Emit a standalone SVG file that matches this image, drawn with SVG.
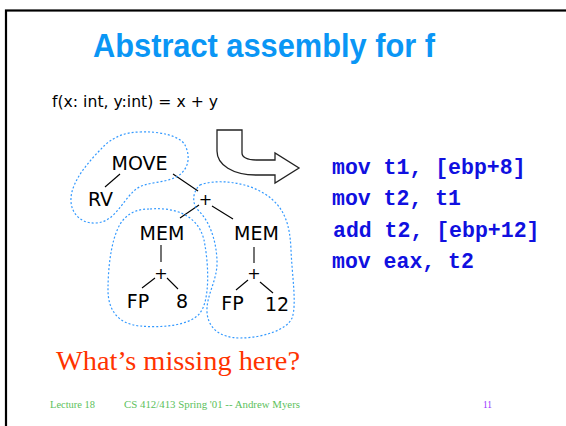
<svg xmlns="http://www.w3.org/2000/svg" width="566" height="426" viewBox="0 0 566 426">
  <style>
    .title { font-family: "Liberation Sans", Arial, sans-serif; font-weight: bold; font-size: 34px; fill: #0A96F5; }
    .sig { font-family: "DejaVu Sans", Verdana, sans-serif; font-size: 15.6px; fill: #000; }
    .node { font-family: "DejaVu Sans", Verdana, sans-serif; font-size: 19px; fill: #000; text-anchor: middle; }
    .plus { font-family: "DejaVu Sans", Verdana, sans-serif; font-size: 16px; fill: #000; text-anchor: middle; }
    .edge { stroke: #000; stroke-width: 1.1; fill: none; }
    .tile { stroke: #3399FF; stroke-width: 1.2; stroke-dasharray: 2 2; fill: none; }
    .code { font-family: "Liberation Mono", "Courier New", monospace; font-weight: bold; font-size: 21.5px; fill: #1010E0; }
    .question { font-family: "Liberation Serif", Georgia, serif; font-size: 27px; fill: #FF3300; }
    .foot { font-family: "Liberation Serif", Georgia, serif; font-size: 10.5px; fill: #5CBF5C; }
    .page { font-family: "Liberation Serif", Georgia, serif; font-size: 10.5px; fill: #9933FF; }
  </style>

  <rect x="0" y="0" width="566" height="426" fill="#fff"/>
  <!-- slide frame -->
  <rect x="6" y="10.5" width="600" height="500" fill="none" stroke="#000" stroke-width="2.2"/>

  <text class="title" x="93" y="57" textLength="342" lengthAdjust="spacingAndGlyphs">Abstract assembly for f</text>
  <text class="sig" x="52" y="107" textLength="166" lengthAdjust="spacingAndGlyphs">f(x: int, y:int) = x + y</text>

  <!-- tree edges -->
  <g id="connectors">
    <line class="edge" x1="120" y1="174" x2="105" y2="187"/>
    <line class="edge" x1="173" y1="174" x2="198" y2="191"/>
    <line class="edge" x1="199" y1="205" x2="180" y2="218"/>
    <line class="edge" x1="212" y1="206" x2="233" y2="219"/>
    <line class="edge" x1="161" y1="245" x2="161" y2="262"/>
    <line class="edge" x1="155" y1="278" x2="142" y2="288"/>
    <line class="edge" x1="167" y1="278" x2="178" y2="289"/>
    <line class="edge" x1="254" y1="247" x2="254" y2="263"/>
    <line class="edge" x1="248" y1="280" x2="236" y2="290"/>
    <line class="edge" x1="260" y1="282" x2="273" y2="293"/>
  </g>

  <!-- tree nodes -->
  <g id="move"><text class="node" x="139.5" y="170">MOVE</text></g>
  <g id="rv"><text class="node" x="100.5" y="206">RV</text></g>
  <g id="plus-top"><text class="plus" x="205.5" y="205">+</text></g>
  <g id="mem-left"><text class="node" x="162" y="240">MEM</text></g>
  <g id="mem-right"><text class="node" x="256.5" y="240">MEM</text></g>
  <g id="plus-left"><text class="plus" x="161" y="279">+</text></g>
  <g id="plus-right"><text class="plus" x="254" y="279">+</text></g>
  <g id="fp-left"><text class="node" x="138" y="308">FP</text></g>
  <g id="eight"><text class="node" x="182" y="308">8</text></g>
  <g id="fp-right"><text class="node" x="232.5" y="310">FP</text></g>
  <g id="twelve"><text class="node" x="277" y="311">12</text></g>

  <!-- instruction tiles -->
  <g id="tiles">
    <path class="tile" d="M140,132 C160,131 180,136 185,145 C190,155 190,168 178,176 C165,184 145,181 135,190 C122,201 115,222 96,223 C80,224 70,212 71,198 C72,180 90,160 105,145 C115,136 127,132 140,132 Z"/>
    <path class="tile" d="M150,209 C175,207 198,215 204,240 C209,265 210,300 200,313 C190,326 160,328 140,326 C118,324 108,310 108,290 C108,265 112,230 125,218 C132,211 140,209 150,209 Z"/>
    <path class="tile" d="M200,185 C215,179 245,181 265,194 C285,207 290,225 291,250 C292,275 297,305 292,318 C287,330 262,338 240,338 C220,338 208,328 207,312 C206,295 218,280 217,260 C216,240 210,222 198,210 C192,204 192,192 200,185 Z"/>
  </g>

  <!-- translation arrow -->
  <g id="arrow">
    <path d="M217,130 H242 V153 C242,157 247,160 256,160 H275 V153 L299,168 L275,183 V175 H256 C233,175 217,165 217,151 Z" fill="#fff" stroke="#222" stroke-width="1.3" stroke-linejoin="miter"/>
  </g>

  <g id="assembly">
    <text class="code" x="332" y="174">mov t1, [ebp+8]</text>
    <text class="code" x="332" y="205">mov t2, t1</text>
    <text class="code" x="333" y="237">add t2, [ebp+12]</text>
    <text class="code" x="332" y="268">mov eax, t2</text>
  </g>

  <text class="question" x="56" y="370" textLength="244" lengthAdjust="spacingAndGlyphs">What’s missing here?</text>

  <text class="foot" x="50" y="408" textLength="45" lengthAdjust="spacingAndGlyphs">Lecture 18</text>
  <text class="foot" x="124" y="408" textLength="176" lengthAdjust="spacingAndGlyphs">CS 412/413 Spring '01 -- Andrew Myers</text>
  <text class="page" x="483" y="408" textLength="9" lengthAdjust="spacingAndGlyphs">11</text>
</svg>
